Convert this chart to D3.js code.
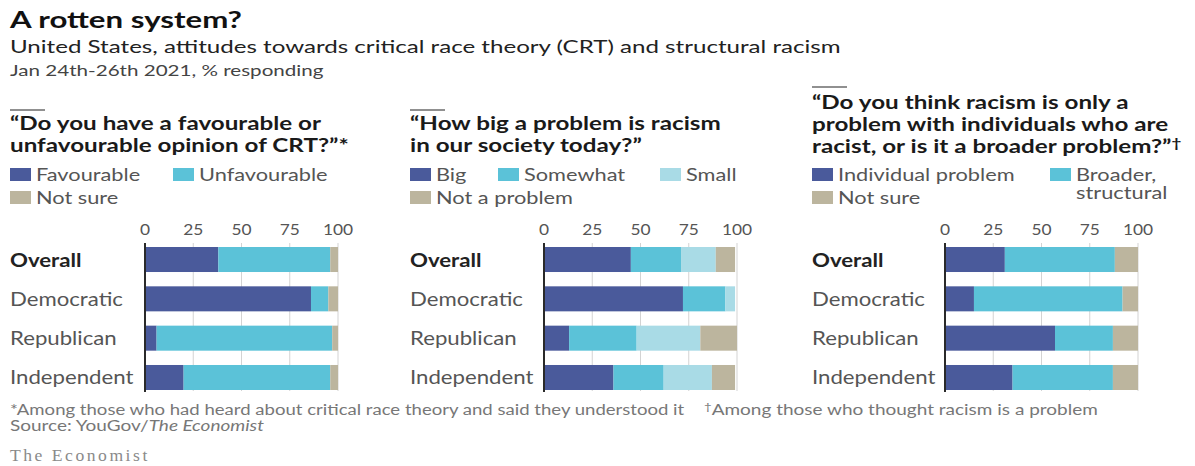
<!DOCTYPE html>
<html>
<head>
<meta charset="utf-8">
<script src="https://cdn.jsdelivr.net/npm/d3@7"></script>
<style>
  html, body { margin: 0; padding: 0; background: #fff; }
  svg { display: block; font-family: Lato, "Noto Sans", sans-serif; }
</style>
</head>
<body>
<svg id="chart" width="1195" height="466"></svg>
<script>
// ---------------- DATA ----------------
const categories = ["Overall", "Democratic", "Republican", "Independent"];
const tickValues = [0, 25, 50, 75, 100];

// Panel 1: favourable / unfavourable opinion of CRT
const crtSeries = ["Favourable", "Unfavourable", "Not sure"];
const crtFavourable   = [38, 86, 6, 20];
const crtUnfavourable = [58, 9, 91, 76];
const crtNotSure      = [4, 5, 3, 4];

// Panel 2: how big a problem is racism
const problemSeries = ["Big", "Somewhat", "Small", "Not a problem"];
const problemBig      = [45, 72, 13, 36];
const problemSomewhat = [26, 22, 35, 26];
const problemSmall    = [18, 5, 33, 25];
const problemNone     = [10, 0, 19, 12];

// Panel 3: individual vs structural
const structSeries = ["Individual problem", "Broader, structural", "Not sure"];
const structIndividual = [31, 15, 57, 35];
const structBroader    = [57, 77, 30, 52];
const structNotSure    = [12, 8, 13, 13];

// ---------------- STYLE ----------------
const C_DARK = "#4a5a9b", C_CYAN = "#5bc2d8", C_LIGHT = "#a9dbe6", C_TAUPE = "#bcb59e";
const SX = 1.17; // default horizontal text stretch

const svg = d3.select("#chart");

function txt(x, y, s, o = {}) {
  const t = svg.append("text")
    .attr("transform", `translate(${x},${y}) scale(${o.sx || SX},1)`)
    .attr("font-size", o.size || 16)
    .attr("font-weight", o.weight || "normal")
    .attr("fill", o.fill || "#333")
    .attr("text-anchor", o.anchor || "start");
  if (o.family) t.attr("font-family", o.family);
  if (o.ls) t.attr("letter-spacing", o.ls);
  if (Array.isArray(s)) {
    s.forEach(p => {
      const ts = t.append("tspan").text(p.t);
      if (p.italic) ts.attr("font-style", "italic");
      if (p.sup) ts.attr("font-size", (o.size || 16) * 0.7).attr("dy", -5);
      if (p.unsup) ts.attr("dy", 5);
    });
  } else t.text(s);
  return t;
}

// ---------------- HEADER ----------------
txt(10, 28, "A rotten system?", { size: 22, weight: "bold", fill: "#111", sx: 1.42 });
txt(10, 53, "United States, attitudes towards critical race theory (CRT) and structural racism", { size: 18, fill: "#222", sx: 1.34 });
txt(10, 76, "Jan 24th-26th 2021, % responding", { size: 15.5, fill: "#444", sx: 1.33 });

// ---------------- PANELS ----------------
const Q = { size: 18.5, weight: "bold", fill: "#1a1a1a", sx: 1.31 };
const LEG = { size: 16.5, fill: "#555", sx: 1.32 };

const panels = [
  {
    left: 10, rangeX: [145, 338], ruleY: 110,
    question: ["\u201CDo you have a favourable or", "unfavourable opinion of CRT?\u201D*"],
    qY: 130,
    series: crtSeries, colors: [C_DARK, C_CYAN, C_TAUPE],
    values: [crtFavourable, crtUnfavourable, crtNotSure],
    legend: [{ dx: 0, row: 0 }, { dx: 163, row: 0 }, { dx: 0, row: 1 }]
  },
  {
    left: 410, rangeX: [544, 737], ruleY: 110,
    question: ["\u201CHow big a problem is racism", "in our society today?\u201D"],
    qY: 130,
    series: problemSeries, colors: [C_DARK, C_CYAN, C_LIGHT, C_TAUPE],
    values: [problemBig, problemSomewhat, problemSmall, problemNone],
    legend: [{ dx: 0, row: 0 }, { dx: 88, row: 0 }, { dx: 250, row: 0 }, { dx: 0, row: 1 }]
  },
  {
    left: 812, rangeX: [945, 1138], ruleY: 87,
    question: ["\u201CDo you think racism is only a", "problem with individuals who are", "racist, or is it a broader problem?\u201D"],
    qY: 109, qMark: "\u2020",
    series: structSeries, colors: [C_DARK, C_CYAN, C_TAUPE],
    values: [structIndividual, structBroader, structNotSure],
    legend: [{ dx: 0, row: 0 }, { dx: 238, row: 0, wrap: ["Broader,", "structural"] }, { dx: 0, row: 1 }]
  }
];

const y = d3.scaleBand().domain(categories).range([247, 390]).paddingInner(0.364).paddingOuter(0);

panels.forEach(p => {
  const x = d3.scaleLinear().domain([0, 100]).range(p.rangeX);

  // short rule
  svg.append("line").attr("x1", p.left).attr("x2", p.left + 35)
    .attr("y1", p.ruleY).attr("y2", p.ruleY).attr("stroke", "#222").attr("stroke-width", 1.2);

  // question
  p.question.forEach((line, i) => {
    const last = i === p.question.length - 1;
    if (last && p.qMark) {
      txt(p.left, p.qY + i * 22, [{ t: line }, { t: p.qMark, sup: true }], Q);
    } else {
      txt(p.left, p.qY + i * 22, line, Q);
    }
  });

  // legend
  p.series.forEach((s, i) => {
    const L = p.legend[i];
    const ly = L.row === 0 ? 181 : 204;
    svg.append("rect").attr("x", p.left + L.dx).attr("y", ly - 13)
      .attr("width", 21).attr("height", 13).attr("fill", p.colors[i]);
    if (L.wrap) {
      txt(p.left + L.dx + 26, ly, L.wrap[0], LEG);
      txt(p.left + L.dx + 26, ly + 18, L.wrap[1], LEG);
    } else {
      txt(p.left + L.dx + 26, ly, s, LEG);
    }
  });

  // tick labels
  tickValues.forEach(v => {
    txt(x(v), 235, String(v), { size: 15.5, fill: "#555", anchor: "middle", sx: 1.12 });
  });

  // gridlines
  svg.append("g").selectAll("line").data(tickValues.filter(v => v > 0)).join("line")
    .attr("x1", d => x(d)).attr("x2", d => x(d))
    .attr("y1", 243).attr("y2", 391)
    .attr("stroke", "#d3d3d3").attr("stroke-width", 1);

  // stacked bars
  const rows = categories.map((c, ci) => {
    const r = { cat: c };
    p.series.forEach((s, si) => { r[s] = p.values[si][ci]; });
    return r;
  });
  const stacked = d3.stack().keys(p.series)(rows);
  svg.append("g").selectAll("g").data(stacked).join("g")
    .attr("fill", (d, i) => p.colors[i])
    .selectAll("rect").data(d => d).join("rect")
    .attr("x", d => x(d[0]))
    .attr("width", d => Math.max(0, x(d[1]) - x(d[0])))
    .attr("y", d => y(d.data.cat))
    .attr("height", y.bandwidth());

  // zero baseline
  svg.append("line").attr("x1", x(0)).attr("x2", x(0))
    .attr("y1", 243).attr("y2", 392).attr("stroke", "#2a2a2a").attr("stroke-width", 2);

  // category labels
  categories.forEach((c, i) => {
    txt(p.left, y(c) + y.bandwidth() / 2 + 7, c, {
      size: 18.5, weight: i === 0 ? "bold" : "normal", fill: i === 0 ? "#222" : "#555", sx: 1.2
    });
  });
});

// ---------------- FOOTER ----------------
txt(10, 415, "*Among those who had heard about critical race theory and said they understood it", { size: 14.5, fill: "#777", sx: 1.28 });
txt(704, 415, [{ t: "\u2020", sup: true }, { t: "Among those who thought racism is a problem", unsup: true }], { size: 14.5, fill: "#777", sx: 1.31 });
txt(10, 431, [{ t: "Source: YouGov/" }, { t: "The Economist", italic: true }], { size: 14.5, fill: "#777", sx: 1.31 });
txt(10, 461, "The Economist", { size: 16, fill: "#8a8a8a", family: "'Liberation Serif', 'DejaVu Serif', serif", ls: 2.3, sx: 1.1 });
</script>
</body>
</html>
